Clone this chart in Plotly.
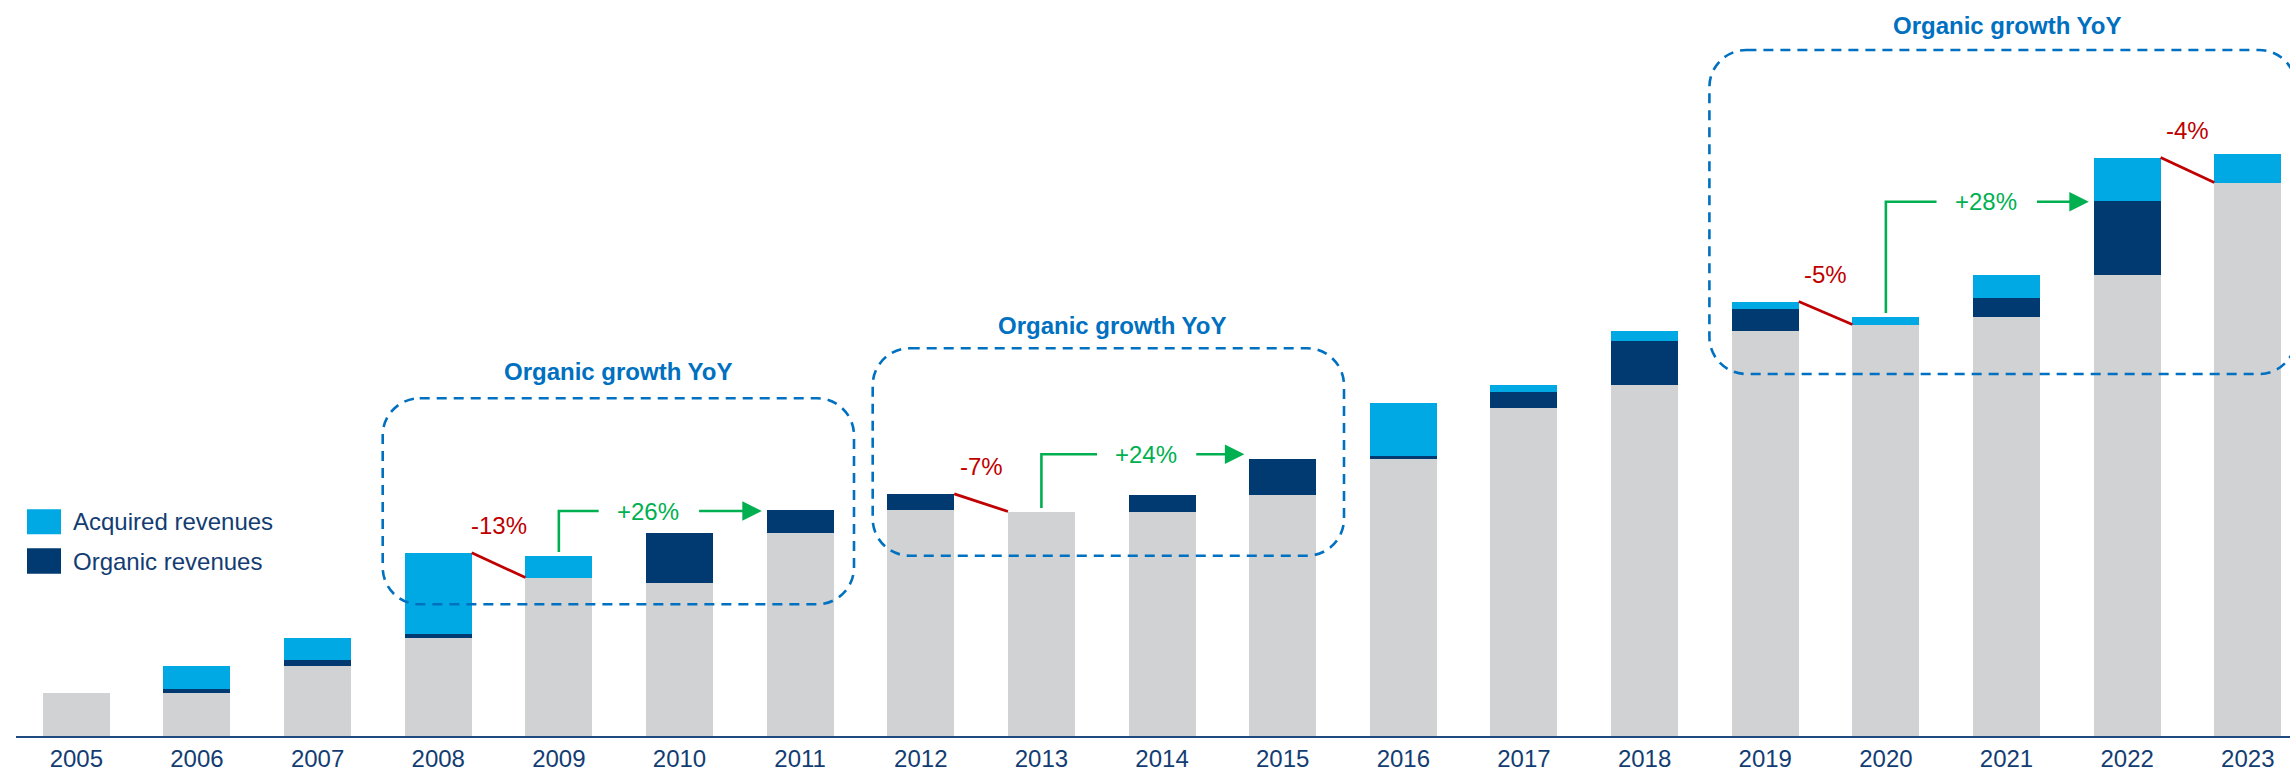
import plotly.graph_objects as go

# ---------------- data (arbitrary units) ----------------
years = [str(y) for y in range(2005, 2024)]
base_revenues = [43.5, 43.5, 70.5, 98.2, 158.5, 153.2, 203.2, 226.5, 224.5, 224.2,
                 241.5, 277.5, 328.5, 351.5, 405.5, 411.5, 418.8, 460.8, 553.5]
organic_revenues = [0, 3.7, 6.0, 4.3, 0, 50.0, 23.3, 15.7, 0, 17.3,
                    35.7, 2.3, 16.0, 43.7, 21.3, 0, 19.0, 74.0, 0]
acquired_revenues = [0, 23.3, 21.7, 80.7, 22.0, 0, 0, 0, 0, 0,
                     0, 53.4, 7.0, 10.3, 7.7, 8.0, 23.0, 43.7, 29.0]

# organic growth YoY call-outs: (from-index, to-index, label)
declines = [(3, 4, "-13%"), (7, 8, "-7%"), (14, 15, "-5%"), (17, 18, "-4%")]
growths = [(4, 6, "+26%"), (8, 10, "+24%"), (15, 17, "+28%")]
box_title = "Organic growth YoY"

# ---------------- styling / geometry ----------------
W, H = 2290, 771
ML, MR, MT, MB = 16, 0, 0, 35
XMIN, XMAX = -0.5, 18.35
YMAX = 736
BAR_W = 0.555
FONT = "Liberation Sans, Arial, sans-serif"
C_BASE, C_ORG, C_ACQ = "#D1D2D4", "#003A70", "#00A9E3"
C_RED, C_GREEN, C_BLUE, C_NAVY = "#C00000", "#00B050", "#0070C0", "#133D72"

pw = W - ML - MR
ph = H - MT - MB


def px_x(px):
    return XMIN + (px - ML) / pw * (XMAX - XMIN)


def px_y(py):
    return (MT + ph - py) / ph * YMAX


x = list(range(len(years)))
totals = [b + o + a for b, o, a in zip(base_revenues, organic_revenues, acquired_revenues)]

fig = go.Figure()
fig.add_trace(go.Bar(x=x, y=base_revenues, width=BAR_W, marker_color=C_BASE,
                     marker_line_width=0, name="Base", showlegend=False))
fig.add_trace(go.Bar(x=x, y=organic_revenues, width=BAR_W, marker_color=C_ORG,
                     marker_line_width=0, name="Organic revenues", showlegend=False))
fig.add_trace(go.Bar(x=x, y=acquired_revenues, width=BAR_W, marker_color=C_ACQ,
                     marker_line_width=0, name="Acquired revenues", showlegend=False))

shapes = []
annotations = []

# ---- dashed rounded boxes with titles (pixel geometry) ----
boxes = [  # L, R, T, B, title centre x, title centre y
    (382.7, 854.0, 398.3, 604.3, 618.3, 371.7),
    (872.7, 1344.0, 348.3, 555.7, 1111.7, 325.0),
    (1709.4, 2296.0, 50.0, 374.0, 2006.6, 25.0),
]


def rounded_path(L, R, T, B, r=37):
    k = 0.5523 * r
    pts = [
        ("M", [(L + r, T)]), ("L", [(R - r, T)]),
        ("C", [(R - r + k, T), (R, T + r - k), (R, T + r)]), ("L", [(R, B - r)]),
        ("C", [(R, B - r + k), (R - r + k, B), (R - r, B)]), ("L", [(L + r, B)]),
        ("C", [(L + r - k, B), (L, B - r + k), (L, B - r)]), ("L", [(L, T + r)]),
        ("C", [(L, T + r - k), (L + r - k, T), (L + r, T)]),
    ]
    s = ""
    for cmd, ps in pts:
        s += cmd + " " + " ".join(f"{px_x(a):.5f},{px_y(b):.3f}" for a, b in ps) + " "
    return s + "Z"


for L, R, T, B, tx, ty in boxes:
    shapes.append(dict(type="path", path=rounded_path(L, R, T, B), xref="x", yref="y",
                       line=dict(color=C_BLUE, width=2.6, dash="10px,7px"), layer="above"))
    annotations.append(dict(x=px_x(tx), y=px_y(ty), xref="x", yref="y", text=f"<b>{box_title}</b>",
                            showarrow=False, font=dict(family=FONT, size=24, color=C_BLUE),
                            xanchor="center", yanchor="middle"))

# ---- red decline connectors ----
label_y_offset = 27
for i, j, lab in declines:
    shapes.append(dict(type="line", xref="x", yref="y",
                       x0=i + BAR_W / 2, y0=totals[i], x1=j - BAR_W / 2, y1=base_revenues[j],
                       line=dict(color=C_RED, width=2.8)))
    annotations.append(dict(x=(i + j) / 2, y=totals[i] + label_y_offset, xref="x", yref="y",
                            text=lab, showarrow=False,
                            font=dict(family=FONT, size=24, color=C_RED),
                            xanchor="center", yanchor="middle"))

# ---- green growth brackets ----
levels = [225.0, 281.7, 534.3]          # bracket heights
text_x = [4.74, 8.866, 15.83]            # text centres
gap_l = [0.41, 0.405, 0.41]              # gap between bracket end and text centre
for (i, j, lab), lev, tx, g in zip(growths, levels, text_x, gap_l):
    xs = [i, i, tx - g]
    ys = [totals[i] + 3.5, lev, lev]
    shapes.append(dict(type="path", xref="x", yref="y",
                       path=f"M {xs[0]},{ys[0]} L {xs[1]},{ys[1]} L {xs[2]},{ys[2]}",
                       line=dict(color=C_GREEN, width=2.6)))
    annotations.append(dict(x=tx, y=lev, xref="x", yref="y", text=lab, showarrow=False,
                            font=dict(family=FONT, size=24, color=C_GREEN),
                            xanchor="center", yanchor="middle"))
    annotations.append(dict(x=j - BAR_W / 2 - 0.04, y=lev, ax=tx + g, ay=lev,
                            xref="x", yref="y", axref="x", ayref="y", text="",
                            showarrow=True, arrowhead=2, arrowsize=1.5, arrowwidth=2.6,
                            arrowcolor=C_GREEN))

# ---- legend (drawn manually) ----
legend_items = [("Acquired revenues", C_ACQ, 509.3, 534.3), ("Organic revenues", C_ORG, 548.3, 573.7)]
for lab, col, t, b in legend_items:
    shapes.append(dict(type="rect", xref="paper", yref="paper",
                       x0=(27 - ML) / pw, x1=(61 - ML) / pw,
                       y0=(MT + ph - b) / ph, y1=(MT + ph - t) / ph,
                       fillcolor=col, line=dict(width=0)))
    annotations.append(dict(x=(71 - ML) / pw, y=(MT + ph - (t + b) / 2) / ph,
                            xref="paper", yref="paper", text=lab, showarrow=False,
                            font=dict(family=FONT, size=24, color=C_NAVY),
                            xanchor="left", yanchor="middle"))

fig.update_layout(
    width=W, height=H, barmode="stack",
    margin=dict(l=ML, r=MR, t=MT, b=MB, pad=0),
    paper_bgcolor="white", plot_bgcolor="white",
    shapes=shapes, annotations=annotations,
    showlegend=False,
    xaxis=dict(range=[XMIN, XMAX], tickmode="array", tickvals=x, ticktext=years,
               showgrid=False, zeroline=False, showline=True, linecolor="#1F4A80", linewidth=2,
               ticks="", tickfont=dict(family=FONT, size=24, color=C_NAVY)),
    yaxis=dict(range=[0, YMAX], visible=False, showgrid=False, zeroline=False),
)

fig.write_html("out.html", config={"displayModeBar": False},
               post_script="document.body.style.margin='0px';document.body.style.overflow='hidden';")
